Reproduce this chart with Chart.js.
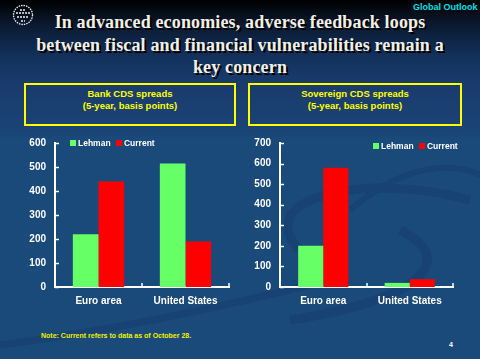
<!DOCTYPE html>
<html>
<head>
<meta charset="utf-8">
<script src="https://cdn.jsdelivr.net/npm/chart.js@4.4.0/dist/chart.umd.min.js"></script>
<style>
  html, body { margin:0; padding:0; }
  body { width:480px; height:359px; overflow:hidden; position:relative;
    background: linear-gradient(to bottom, #000000 0px, #0b1a30 25px, #12305a 55px, #183a6a 78px, #1b3e70 100px, #1a4374 128px, #1a4a7a 140px, #1a4a7a 359px);
    font-family: "Liberation Sans", Arial, sans-serif; }
  #bg { position:absolute; left:0; top:0; }
  .title { position:absolute; left:0; width:480px; top:11px; text-align:center;
    font-family:"Liberation Serif","Times New Roman",serif; font-weight:bold; font-size:18px; line-height:22.5px;
    letter-spacing:0.15px; color:#f2f0e6; text-shadow: 2px 2px 0 #000; }
  .go { position:absolute; left:413px; top:2px; font-weight:bold; font-size:9px; color:#00e0e8; }
  .box { position:absolute; top:83px; height:36px; border:2px solid #ffff00; box-sizing:content-box;
    color:#ffff00; font-weight:bold; font-size:9.5px; line-height:11.5px; text-align:center; padding-top:3px; }
  .leg { position:absolute; font-weight:bold; font-size:8.5px; color:#ffffff; white-space:nowrap; }
  .leg span.sw { display:inline-block; width:6px; height:6px; vertical-align:0px; margin-right:2px; }
  .note { position:absolute; left:41px; top:332px; font-weight:bold; font-size:7px; color:#f0f000; letter-spacing:0px; white-space:nowrap; }
  .pg { position:absolute; left:449px; top:341px; font-weight:bold; font-size:7px; color:#fff; }
  canvas.c { position:absolute; top:128px; }
</style>
</head>
<body>
<svg id="bg" width="480" height="359">
  <g fill="none" stroke="#17416f" stroke-width="9" opacity="0.8">
    <path d="M 300 250 C 250 200, 360 170, 470 200" />
    <path d="M 290 320 C 420 300, 460 260, 400 230" />
    <path d="M 0 345 C 120 330, 250 300, 330 280" stroke-width="7"/>
    <path d="M 350 210 C 420 150, 470 170, 480 175" stroke-width="6"/>
  </g>
  <g fill="none" stroke="#f0f0f0" stroke-width="1.3">
    <circle cx="23" cy="15" r="9.5" stroke-dasharray="1.5 1"/>
    <path d="M 16 13 L 30 13 M 17 17 L 29 17 M 20 10 L 26 10 M 21 21 L 25 21" stroke-width="1.6" stroke-dasharray="2 1"/>
  </g>
</svg>
<div class="title">In advanced economies, adverse feedback loops<br>between fiscal and financial vulnerabilities remain a<br>key concern</div>
<div class="go">Global Outlook</div>
<div class="box" style="left:24px;width:208px;">Bank CDS spreads<br>(5-year, basis points)</div>
<div class="box" style="left:248px;width:210px;">Sovereign CDS spreads<br>(5-year, basis points)</div>
<canvas id="c1" class="c" width="240" height="190" style="left:0px"></canvas>
<canvas id="c2" class="c" width="240" height="190" style="left:240px"></canvas>
<div class="leg" style="left:70px;top:138px;"><span class="sw" style="background:#66ff66"></span>Lehman <span class="sw" style="background:#ff0000;margin-left:3px"></span>Current</div>
<div class="leg" style="left:373px;top:141px;"><span class="sw" style="background:#66ff66"></span>Lehman <span class="sw" style="background:#ff0000;margin-left:3px"></span>Current</div>
<div class="note">Note: Current refers to data as of October 28.</div>
<div class="pg">4</div>
<script>
const categories = ["Euro area", "United States"];
const seriesNames = ["Lehman", "Current"];
const bankLehman = [220, 515];
const bankCurrent = [440, 190];
const sovLehman = [200, 20];
const sovCurrent = [580, 38];
const bankTicks = { min: 0, max: 600, step: 100 };
const sovTicks = { min: 0, max: 700, step: 100 };
const colors = ["#66ff66", "#ff0000"];

const insideTicks = {
  id: 'insideTicks',
  afterDraw(chart) {
    const ctx = chart.ctx, a = chart.chartArea;
    const ys = chart.scales.y, xs = chart.scales.x;
    ctx.save();
    ctx.strokeStyle = '#ffffff';
    ctx.lineWidth = 1.5;
    ys.ticks.forEach(t => {
      const y = Math.round(ys.getPixelForValue(t.value)) + 0.5;
      ctx.beginPath(); ctx.moveTo(a.left, y); ctx.lineTo(a.left + 4, y); ctx.stroke();
    });
    const n = xs.ticks.length;
    const w = (xs.getPixelForValue(1) - xs.getPixelForValue(0));
    for (let i = 0; i <= n; i++) {
      const x = Math.round(xs.getPixelForValue(0) - w / 2 + i * w);
      ctx.beginPath(); ctx.moveTo(x, a.bottom); ctx.lineTo(x, a.bottom - 4); ctx.stroke();
    }
    ctx.restore();
  }
};

function makeChart(id, d1, d2, tk, yWidth, padRight, catPct) {
  return new Chart(document.getElementById(id), {
    type: 'bar',
    data: {
      labels: categories,
      datasets: [
        { label: seriesNames[0], data: d1, backgroundColor: colors[0], borderWidth: 0 },
        { label: seriesNames[1], data: d2, backgroundColor: colors[1], borderWidth: 0 }
      ]
    },
    options: {
      responsive: false, animation: false, devicePixelRatio: 1,
      layout: { padding: { top: 9, right: padRight, left: 0, bottom: 0 } },
      datasets: { bar: { categoryPercentage: catPct, barPercentage: 1 } },
      plugins: { legend: { display: false }, tooltip: { enabled: false } },
      scales: {
        x: {
          grid: { display: false, drawTicks: false },
          border: { display: true, color: '#ffffff', width: 2 },
          ticks: { color: '#ffffff', padding: 8, font: { family: 'Liberation Sans', size: 10, weight: 'bold' } },
          afterFit(s) { s.height = 31; }
        },
        y: {
          min: tk.min, max: tk.max,
          grid: { display: false, drawTicks: false },
          border: { display: true, color: '#ffffff', width: 2 },
          ticks: { stepSize: tk.step, color: '#ffffff', padding: 9, font: { family: 'Liberation Sans', size: 10, weight: 'bold' } },
          afterFit(s) { s.width = yWidth; }
        }
      }
    },
    plugins: [insideTicks]
  });
}
makeChart('c1', bankLehman, bankCurrent, bankTicks, 55, 11, 0.59);
makeChart('c2', sovLehman, sovCurrent, sovTicks, 40, 27, 0.58);
</script>
</body>
</html>
